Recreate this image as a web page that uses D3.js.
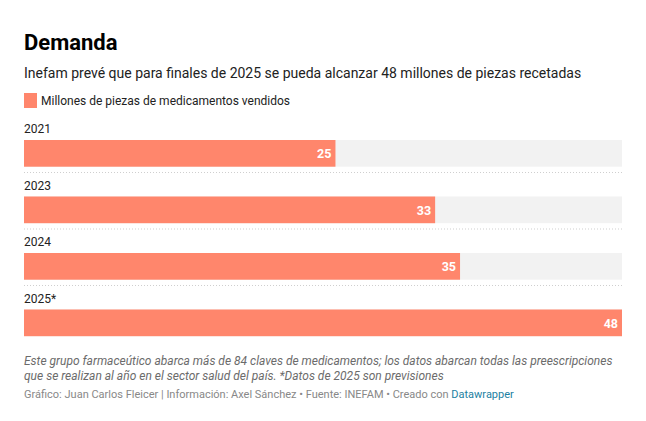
<!DOCTYPE html>
<html>
<head>
<meta charset="utf-8">
<script src="https://cdn.jsdelivr.net/npm/d3@7"></script>
<style>
  body { margin: 0; background: #fff; font-family: Roboto, sans-serif; }
  svg text { font-family: Roboto, sans-serif; }
</style>
</head>
<body>
<div id="chart"></div>
<script>
// chart data
const years = ["2021", "2023", "2024", "2025*"];
const values = [25, 33, 35, 48];
const maxValue = 48;

const W = 646, H = 421;
const left = 24, right = 622;

const svg = d3.select("#chart").append("svg")
    .attr("width", W)
    .attr("height", H);

// header
svg.append("text")
    .attr("x", left).attr("y", 50)
    .style("font-size", "22px").style("font-weight", "700")
    .style("fill", "#000")
    .text("Demanda");

svg.append("text")
    .attr("x", left).attr("y", 78)
    .style("font-size", "14px").style("fill", "#222")
    .text("Inefam prevé que para finales de 2025 se pueda alcanzar 48 millones de piezas recetadas");

// legend
svg.append("rect")
    .attr("x", left).attr("y", 93)
    .attr("width", 13).attr("height", 15)
    .attr("fill", "#ff866c");
svg.append("text")
    .attr("x", 41).attr("y", 105)
    .style("font-size", "12px").style("fill", "#222")
    .text("Millones de piezas de medicamentos vendidos");

// scales
const x = d3.scaleLinear()
    .domain([0, maxValue])
    .range([0, right - left]);

const y = d3.scaleBand()
    .domain(years)
    .range([112, 338])
    .paddingInner(0)
    .paddingOuter(0);

const rows = svg.selectAll(".row")
    .data(years)
    .enter().append("g")
    .attr("class", "row")
    .attr("transform", d => "translate(" + left + "," + y(d) + ")");

rows.append("text")
    .attr("x", 0).attr("y", 21)
    .style("font-size", "12px").style("fill", "#222")
    .text(d => d);

// background track
rows.append("rect")
    .attr("x", 0).attr("y", 28)
    .attr("width", x(maxValue)).attr("height", 26.7)
    .attr("fill", "#f2f2f2");

rows.append("rect")
    .attr("x", 0).attr("y", 28)
    .attr("width", (d, i) => x(values[i])).attr("height", 26.7)
    .attr("fill", "#ff866c");

rows.append("text")
    .attr("x", (d, i) => x(values[i]) - 4)
    .attr("y", 46)
    .attr("text-anchor", "end")
    .style("font-size", "12.5px").style("font-weight", "700")
    .style("fill", "#fff")
    .text((d, i) => values[i]);

// dotted separators
rows.filter((d, i) => i < years.length - 1)
    .append("line")
    .attr("x1", 0).attr("x2", x(maxValue))
    .attr("y1", 60.5).attr("y2", 60.5)
    .attr("stroke", "#cfcfcf")
    .attr("stroke-dasharray", "1,2");

// notes
const notes = [
    "Este grupo farmaceútico abarca más de 84 claves de medicamentos; los datos abarcan todas las preescripciones",
    "que se realizan al año en el sector salud del país. *Datos de 2025 son previsiones"
];
svg.selectAll(".note")
    .data(notes)
    .enter().append("text")
    .attr("class", "note")
    .attr("x", left)
    .attr("y", (d, i) => 365 + i * 15)
    .style("font-size", "12px").style("font-style", "italic")
    .style("fill", "#6b6b6b")
    .text(d => d);

const credit = svg.append("text")
    .attr("x", left).attr("y", 398)
    .style("font-size", "11px").style("fill", "#888");
credit.append("tspan")
    .text("Gráfico: Juan Carlos Fleicer | Información: Axel Sánchez • Fuente: INEFAM • Creado con ");
credit.append("tspan")
    .style("fill", "#1d81a2")
    .text("Datawrapper");
</script>
</body>
</html>
